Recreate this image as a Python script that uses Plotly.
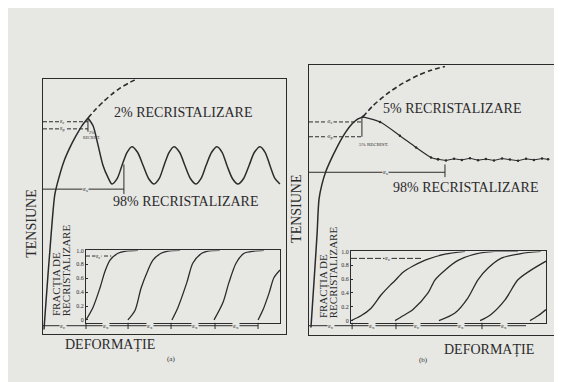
import plotly.graph_objects as go

# ---------------- data ----------------
# panel (a): stress-strain, arbitrary units 0..100
A_rise_strain = [0.4, 1.2, 2.1, 2.9, 3.7, 4.9, 6.6, 8.6, 11.1, 13.6, 16.0, 18.5]
A_rise_stress = [1.6, 12.1, 23.7, 33.5, 43.2, 54.9, 61.5, 67.7, 73.2, 77.8, 81.7, 84.8]
A_hard_strain = [18.5, 21.8, 25.1, 28.4, 31.7, 35.0, 38.3]
A_hard_stress = [84.8, 88.3, 91.4, 94.2, 96.5, 98.4, 100.0]
A_osc_strain = [18.5, 20.6, 22.6, 24.7, 26.7, 28.4, 30.5, 32.5, 34.6, 36.6, 38.9, 41.2, 43.5,
                45.7, 47.8, 49.8, 51.9, 53.9, 56.2, 58.4, 60.7, 63.0, 65.0, 67.1, 69.4,
                71.6, 73.7, 75.7, 78.0, 80.2, 82.5, 84.8, 87.0, 89.3, 91.4, 93.4, 95.5, 97.5]
A_osc_stress = [84.8, 81.7, 74.3, 66.1, 61.5, 58.8, 60.9, 66.1, 71.3, 73.5, 71.3, 66.1, 60.9,
                58.8, 60.9, 66.1, 71.3, 73.5, 71.3, 66.1, 60.9, 58.8, 60.9, 66.1, 71.3,
                73.5, 71.3, 66.1, 60.9, 58.8, 60.9, 66.1, 71.3, 73.5, 71.3, 66.1, 60.9, 58.8]
A_eps_c = [0.0, 18.5, 83.3]      # x0, x1, level
A_eps_p = [0.0, 18.5, 80.5]
A_recr_tick = [18.5, 84.8, 79.4]  # x, y0, y1
A_eps_s = [0.0, 33.3, 56.8]
A_eps_s_tick = [33.3, 66.5, 54.9]
A_lbl_x = [8.2, 8.2, 17.3]        # eps_c, eps_p, eps_s labels
A_bottom = [0.0, 88.5, 3.1]       # bottom strain line x0, x1, level
A_bottom_ticks = [17.7, 35.0, 52.7, 70.8, 88.5]
A_bottom_lbl_x = [8.2, 25.9, 44.0, 62.6, 79.4]
A_bottom_lbl = ["ε<sub>c</sub>", "ε<sub>x</sub>", "ε<sub>x</sub>", "ε<sub>x</sub>", "ε<sub>x</sub>"]

# panel (b)
B_rise_strain = [0.8, 1.6, 2.4, 3.3, 4.1, 5.3, 6.9, 9.0, 11.0, 13.1, 15.1, 17.6, 20.0, 22.0]
B_rise_stress = [2.6, 13.6, 24.6, 37.5, 50.4, 55.9, 60.7, 65.1, 68.8, 72.4, 75.4, 78.3, 80.1, 80.9]
B_hard_strain = [22.0, 26.1, 32.2, 38.4, 44.5, 49.8, 55.5]
B_hard_stress = [80.9, 85.0, 89.7, 93.4, 96.3, 98.2, 99.6]
B_soft_strain = [22.0, 29.0, 37.1, 43.7, 49.8, 52.7]
B_soft_stress = [80.9, 79.0, 73.9, 69.5, 65.8, 65.1]
B_flat_strain = [52.7, 55.9, 59.2, 62.4, 65.7, 69.0, 72.2, 75.5, 78.8, 82.0, 85.3, 88.6, 91.8, 95.1, 97.6]
B_flat_stress = [65.1, 64.7, 65.3, 64.9, 65.5, 64.8, 65.2, 64.7, 65.4, 65.0, 64.6, 65.3, 64.9, 65.4, 65.1]
B_eps_c = [0.0, 22.0, 79.0]
B_eps_p = [0.0, 22.0, 73.5]
B_recr_tick = [21.6, 80.9, 73.5]
B_eps_s = [0.0, 55.5, 60.3]
B_eps_s_tick = [55.5, 63.2, 58.5]
B_lbl_x = [8.6, 8.6, 31.4]
B_bottom = [0.0, 88.6, 3.3]
B_bottom_ticks = [17.6, 35.5, 70.6]
B_bottom_lbl_x = [9.0, 25.7, 44.1, 62.0, 79.6]
B_bottom_lbl = ["ε<sub>c</sub>", "ε<sub>x</sub>", "ε<sub>c</sub>", "ε<sub>x</sub>", "ε<sub>x</sub>"]

# insets: recrystallised fraction vs strain
IA_curves = [
    ([0, 3.6, 7.2, 9.8, 12.4, 16.5, 20.6, 26.8], [0, 0.18, 0.46, 0.70, 0.86, 0.96, 0.99, 1.0]),
    ([21.6, 25.3, 28.4, 32.0, 34.5, 38.7, 42.3, 48.5], [0, 0.14, 0.46, 0.72, 0.86, 0.96, 0.99, 1.0]),
    ([44.3, 47.4, 52.0, 55.1, 59.7, 62.8, 69.0], [0, 0.18, 0.54, 0.82, 0.96, 0.99, 1.0]),
    ([66.0, 70.6, 73.7, 77.4, 81.5, 86.6, 91.8], [0, 0.25, 0.54, 0.82, 0.96, 0.99, 1.0]),
    ([88.7, 91.3, 94.4, 96.9, 100], [0, 0.15, 0.39, 0.61, 0.72]),
]
IA_eps_c = [0.0, 13.0, 0.92, 6.2]
IB_curves = [
    ([0, 5.1, 10.3, 15.4, 20.0, 22.6, 26.7, 31.8, 36.9, 39.5, 48.2, 58.5],
     [0, 0.07, 0.18, 0.37, 0.51, 0.58, 0.70, 0.79, 0.86, 0.89, 0.96, 1.0]),
    ([22.6, 26.7, 31.8, 39.5, 43.1, 48.2, 54.9, 63.6, 73.8, 85.6],
     [0, 0.07, 0.16, 0.40, 0.59, 0.73, 0.87, 0.96, 1.0, 1.0]),
    ([45.1, 53.3, 60.0, 65.1, 70.3, 76.9, 87.2, 97.4], [0, 0.11, 0.33, 0.59, 0.76, 0.90, 0.97, 1.0]),
    ([66.2, 71.8, 79.0, 85.6, 92.3, 100], [0, 0.09, 0.30, 0.59, 0.73, 0.86]),
    ([91.8, 95.9, 100], [0, 0.07, 0.16]),
]
IB_eps_c = [0.0, 35.9, 0.90, 19.0]
frac_ticks = [0, 0.2, 0.4, 0.6, 0.8, 1.0]
frac_ticktext = ["0", "0.2", "0.4", "0.6", "0.8", "1.0"]

# ---------------- styling / layout ----------------
W, H = 562, 382
BG = "#e7e7e4"
INK = "#2b2b2b"
SERIF = "'Liberation Serif', 'DejaVu Serif', serif"


def xd(a, b):
    return [a / W, b / W]


def yd(top, bottom):
    return [1 - bottom / H, 1 - top / H]


fig = go.Figure()


def add_line(x, y, xa, ya, dash="solid", width=1.4, shape="spline", mode="lines", msize=2):
    fig.add_trace(go.Scatter(
        x=x, y=y, xaxis=xa, yaxis=ya, mode=mode,
        line=dict(color=INK, width=width, dash=dash, shape=shape, smoothing=0.8),
        marker=dict(color=INK, size=msize),
        showlegend=False, hoverinfo="skip"))


anns = []


def lbl(text, x, y, xa, ya, size=7):
    anns.append(dict(text=text, x=x, y=y, xref=xa, yref=ya, showarrow=False,
                     font=dict(family=SERIF, size=size, color=INK), bgcolor=BG, borderpad=0))


def ptext(text, px, py, size=14, angle=0):
    anns.append(dict(text=text, x=px / W, y=1 - py / H, xref="paper", yref="paper",
                     showarrow=False, textangle=angle, xanchor="center", yanchor="middle",
                     font=dict(family=SERIF, size=size, color=INK)))


def panel(xa, ya, rise_x, rise_y, hard_x, hard_y, ec, ep, tick, es, es_tick, lx, bottom, bticks,
          blx, bl):
    add_line(rise_x, rise_y, xa, ya, width=1.5)
    add_line(hard_x, hard_y, xa, ya, dash="5px,3px", width=1.6)
    for lv in (ec, ep):
        add_line([lv[0], lv[1]], [lv[2], lv[2]], xa, ya, dash="4px,2px", width=1.0, shape="linear")
    add_line([tick[0], tick[0]], [tick[1], tick[2]], xa, ya, width=1.0, shape="linear")
    add_line([es[0], es[1]], [es[2], es[2]], xa, ya, width=1.0, shape="linear")
    add_line([es_tick[0], es_tick[0]], [es_tick[1], es_tick[2]], xa, ya, width=1.0, shape="linear")
    lbl("ε<sub>c</sub>", lx[0], ec[2], xa, ya, size=6)
    lbl("ε<sub>p</sub>", lx[1], ep[2], xa, ya, size=6)
    lbl("ε<sub>s</sub>", lx[2], es[2], xa, ya)
    add_line([bottom[0], bottom[1]], [bottom[2], bottom[2]], xa, ya, width=1.0, shape="linear")
    for t in bticks:
        add_line([t, t], [bottom[2] - 1.3, bottom[2] + 1.3], xa, ya, width=1.0, shape="linear")
    for x, t in zip(blx, bl):
        lbl(t, x, bottom[2], xa, ya, size=7)


panel("x", "y", A_rise_strain, A_rise_stress, A_hard_strain, A_hard_stress, A_eps_c, A_eps_p,
      A_recr_tick, A_eps_s, A_eps_s_tick, A_lbl_x, A_bottom, A_bottom_ticks, A_bottom_lbl_x, A_bottom_lbl)
add_line(A_osc_strain, A_osc_stress, "x", "y", width=1.5)

panel("x2", "y2", B_rise_strain, B_rise_stress, B_hard_strain, B_hard_stress, B_eps_c, B_eps_p,
      B_recr_tick, B_eps_s, B_eps_s_tick, B_lbl_x, B_bottom, B_bottom_ticks, B_bottom_lbl_x, B_bottom_lbl)
add_line(B_soft_strain, B_soft_stress, "x2", "y2", width=1.2, mode="lines+markers", msize=2.5)
add_line(B_flat_strain, B_flat_stress, "x2", "y2", width=1.0, shape="linear", mode="lines+markers", msize=2.5)

for cx, cy in IA_curves:
    add_line(cx, cy, "x3", "y3", width=1.3)
for cx, cy in IB_curves:
    add_line(cx, cy, "x4", "y4", width=1.3)
add_line([IA_eps_c[0], IA_eps_c[1]], [IA_eps_c[2]] * 2, "x3", "y3", dash="4px,2px", width=1.0, shape="linear")
lbl("ε<sub>c</sub>", IA_eps_c[3], IA_eps_c[2], "x3", "y3", size=6)
add_line([IB_eps_c[0], IB_eps_c[1]], [IB_eps_c[2]] * 2, "x4", "y4", dash="6px,2px", width=1.0, shape="linear")
lbl("ε<sub>c</sub>", IB_eps_c[3], IB_eps_c[2], "x4", "y4", size=7)

# texts
ptext("2% RECRISTALIZARE", 175, 103)
ptext("98% RECRISTALIZARE", 177, 193)
ptext("5% RECRISTALIZARE", 444, 99)
ptext("98% RECRISTALIZARE", 457, 178)
ptext("TENSIUNE", 24, 215, angle=-90)
ptext("TENSIUNE", 289, 200, angle=-90)
ptext("FRACȚIA DE", 48, 276, size=11, angle=-90)
ptext("RECRISTALIZARE", 58, 262, size=11, angle=-90)
ptext("FRACȚIA DE", 315, 278, size=11, angle=-90)
ptext("RECRISTALIZARE", 325, 264, size=11, angle=-90)
ptext("DEFORMAȚIE", 102, 338)
ptext("DEFORMAȚIE", 481, 343)
ptext("(a)", 163, 352, size=7)
ptext("(b)", 415, 353, size=7)
ptext("2%<br>RECRIST.", 83, 125, size=4)
ptext("5% RECRIST.", 365, 135, size=5)

main_ax = dict(range=[0, 100], showline=True, mirror=True, linecolor=INK, linewidth=1.3,
               showgrid=False, zeroline=False, showticklabels=False, ticks="", fixedrange=True)
inset_x = dict(range=[0, 100], showline=True, mirror=True, linecolor=INK, linewidth=1.2,
               showgrid=False, zeroline=False, showticklabels=False, ticks="")
inset_y = dict(showline=True, mirror=True, linecolor=INK, linewidth=1.2, showgrid=False,
               zeroline=False, tickvals=frac_ticks, ticktext=frac_ticktext, ticks="inside",
               ticklen=2, tickcolor=INK, tickfont=dict(family=SERIF, size=6, color=INK))

fig.update_layout(
    width=W, height=H, margin=dict(l=0, r=0, t=0, b=0),
    paper_bgcolor=BG, plot_bgcolor=BG, showlegend=False,
    font=dict(family=SERIF, color=INK),
    xaxis=dict(domain=xd(35, 278), anchor="y", **main_ax),
    yaxis=dict(domain=yd(69, 326), anchor="x", **main_ax),
    xaxis2=dict(domain=xd(301, 546), anchor="y2", **main_ax),
    yaxis2=dict(domain=yd(55, 327), anchor="x2", **main_ax),
    xaxis3=dict(domain=xd(78, 272), anchor="y3", **inset_x),
    yaxis3=dict(domain=yd(242, 315), anchor="x3", range=[-0.04, 1.0], **inset_y),
    xaxis4=dict(domain=xd(343, 538), anchor="y4", **inset_x),
    yaxis4=dict(domain=yd(243, 315), anchor="x4", range=[-0.03, 1.0], **inset_y),
    annotations=anns,
)

fig.write_html("out.html")
